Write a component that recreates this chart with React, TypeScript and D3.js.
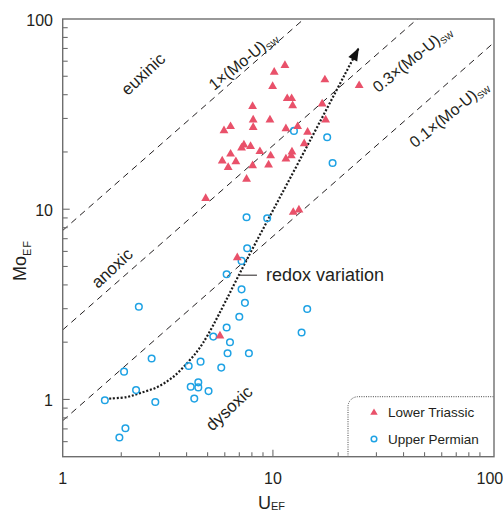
import React from "react";
import * as d3 from "d3";

const W = 503;
const H = 512;

// axis limits, read from where the frame edges fall
const U_MIN = 1.074;
const U_MAX = 104.5;
const MO_MIN = 0.5;
const MO_MAX = 100;

const xTickLabels = [1, 10, 100];
const yTickLabels = [1, 10, 100];

// seawater Mo/U line family
const SW_RATIO = 7.2;
const lineFactors = [1, 0.3, 0.1];
const lineLabels = ["1×(Mo-U)", "0.3×(Mo-U)", "0.1×(Mo-U)"];
const lineLabelU = [7.27, 43.7, 64.7];
const lineLabelMo = [60.3, 61.8, 31.7];

const zoneNames = ["euxinic", "anoxic", "dysoxic"];
const zoneU = [2.52, 1.81, 6.27];
const zoneMo = [51.5, 4.91, 0.9];

// Lower Triassic (triangles)
const triU = [
  11.36, 10.14, 17.36, 9.97, 24.98, 11.64, 12.2, 8.06, 12.33, 16.87,
  8.11, 9.69, 17.5, 6.38, 5.95, 8.11, 11.48, 13.0, 14.45, 13.94,
  7.35, 7.89, 7.17, 8.71, 6.38, 9.76, 12.24, 12.15, 11.48, 5.84,
  6.75, 6.22, 8.06, 9.55, 7.56, 4.9, 12.41, 13.18, 6.85, 5.7,
];
const triMo = [
  57.0, 52.6, 47.9, 44.2, 44.7, 38.2, 38.2, 34.7, 35.0, 35.8,
  29.5, 29.5, 29.5, 27.2, 25.9, 26.9, 26.5, 27.2, 25.4, 22.1,
  21.8, 21.4, 21.0, 20.1, 19.5, 19.1, 20.0, 19.1, 18.4, 17.96,
  17.8, 16.6, 16.96, 17.1, 14.4, 11.4, 9.64, 9.92, 5.56, 2.16,
];

// Upper Permian (circles)
const circU = [
  12.5, 17.79, 18.84, 7.56, 9.41, 7.61, 7.17, 6.12, 7.17, 7.43,
  14.39, 7.0, 6.12, 13.56, 5.31, 6.34, 6.18, 7.75, 4.64, 2.76,
  2.41, 4.09, 5.78, 2.06, 4.53, 4.18, 4.53, 5.05, 2.34, 1.68,
  2.87, 4.34, 2.09, 1.96,
];
const circMo = [
  25.8, 23.9, 17.5, 9.08, 8.97, 6.23, 5.35, 4.55, 3.79, 3.22,
  2.99, 2.72, 2.39, 2.25, 2.14, 2.0, 1.75, 1.75, 1.58, 1.64,
  3.07, 1.5, 1.47, 1.4, 1.23, 1.165, 1.157, 1.106, 1.12, 0.99,
  0.97, 1.01, 0.706, 0.631,
];

// redox variation trend
const trendU = [1.76, 2.12, 2.44, 2.92, 3.46, 4.14, 4.76, 7.83, 13.32, 24.9];
const trendMo = [1.01, 1.03, 1.08, 1.16, 1.31, 1.61, 1.98, 5.83, 18.2, 70.6];
const trendLabelU = 7.05;
const trendLabelMo = 4.5;

const FONT = "'Liberation Sans', Arial, Helvetica, sans-serif";
const TRI_COLOR = "#e9516a";
const CIRC_COLOR = "#1ea2e4";
const AXIS_COLOR = "#6e6e6e";
const INK = "#231f20";

export default function App() {
  const x = d3.scaleLog().domain([U_MIN, U_MAX]).range([62.7, 494]);
  const y = d3.scaleLog().domain([MO_MIN, MO_MAX]).range([456.7, 19]);

  const left = x(U_MIN);
  const right = x(U_MAX);
  const top = y(MO_MAX);
  const bottom = y(MO_MIN);

  const xMinor = [2, 3, 4, 5, 6, 7, 8, 9, 20, 30, 40, 50, 60, 70, 80, 90];
  const yMinor = [0.6, 0.7, 0.8, 0.9, 2, 3, 4, 5, 6, 7, 8, 9, 20, 30, 40, 50, 60, 70, 80, 90];

  const tri = d3.symbol(d3.symbolTriangle, 34)();
  const triSmall = d3.symbol(d3.symbolTriangle, 24)();

  const trendPts: [number, number][] = trendU.map((u, i) => [x(u), y(trendMo[i])]);
  const trendPath = d3.line().curve(d3.curveCatmullRom.alpha(0.5))(trendPts) || "";
  const tip = trendPts[trendPts.length - 1];
  const prev = trendPts[trendPts.length - 2];
  const ang = Math.atan2(tip[1] - prev[1], tip[0] - prev[0]);
  const aLen = 13;
  const aHalf = 5;
  const bx = tip[0] - aLen * Math.cos(ang);
  const by = tip[1] - aLen * Math.sin(ang);
  const arrow = `M${tip[0]},${tip[1]}L${bx + aHalf * Math.sin(ang)},${by - aHalf * Math.cos(ang)}L${bx - aHalf * Math.sin(ang)},${by + aHalf * Math.cos(ang)}Z`;

  const lx = x(trendLabelU);
  const ly = y(trendLabelMo);

  // legend sits in the lower-right corner of the frame
  const legLeft = 348;
  const legTop = 396.7;
  const legR = 10;

  return (
    <svg
      width={W}
      height={H}
      style={{ position: "absolute", left: 0, top: 0, background: "#fff" }}
      fontFamily={FONT}
    >
      <defs>
        <clipPath id="frame">
          <rect x={left} y={top} width={right - left} height={bottom - top} />
        </clipPath>
      </defs>

      {/* seawater ratio lines */}
      <g clipPath="url(#frame)">
        {lineFactors.map((k, i) => (
          <line
            key={i}
            x1={x(U_MIN)}
            y1={y(k * SW_RATIO * U_MIN)}
            x2={x(U_MAX)}
            y2={y(k * SW_RATIO * U_MAX)}
            stroke={INK}
            strokeWidth={1}
            strokeDasharray="6.5 5"
          />
        ))}
      </g>

      {/* legend outline */}
      <path
        d={`M${legLeft},${bottom}V${legTop + legR}A${legR},${legR} 0 0 1 ${legLeft + legR},${legTop}H${right}`}
        fill="none"
        stroke="#444"
        strokeWidth={1}
        strokeDasharray="1 1.3"
      />

      {/* trend */}
      <path d={trendPath} fill="none" stroke="#1a1a1a" strokeWidth={2.2} strokeDasharray="2 1.8" />
      <path d={arrow} fill="#111" />
      <line x1={lx} x2={lx + 17} y1={ly} y2={ly} stroke={INK} strokeWidth={1} />
      <text x={lx + 26} y={ly} dy="0.35em" fontSize={18} fill={INK}>
        redox variation
      </text>

      {/* data */}
      {circU.map((u, i) => (
        <circle
          key={"c" + i}
          cx={x(u)}
          cy={y(circMo[i])}
          r={3.3}
          fill="none"
          stroke={CIRC_COLOR}
          strokeWidth={1.5}
        />
      ))}
      {triU.map((u, i) => (
        <path key={"t" + i} d={tri} transform={`translate(${x(u)},${y(triMo[i])})`} fill={TRI_COLOR} />
      ))}

      {/* zone labels */}
      {zoneNames.map((name, i) => (
        <text
          key={name}
          transform={`translate(${x(zoneU[i])},${y(zoneMo[i])}) rotate(-43)`}
          textAnchor="middle"
          dy="0.35em"
          fontSize={17}
          fill={INK}
        >
          {name}
        </text>
      ))}

      {/* line labels */}
      {lineLabels.map((lab, i) => (
        <text
          key={lab}
          transform={`translate(${x(lineLabelU[i])},${y(lineLabelMo[i])}) rotate(-39)`}
          textAnchor="middle"
          dy="0.35em"
          fontSize={16}
          fill={INK}
        >
          {lab}
          <tspan fontSize={9} dy={3}>SW</tspan>
        </text>
      ))}

      {/* legend */}
      <path d={triSmall} transform={`translate(374,412.7)`} fill={TRI_COLOR} />
      <text x={388} y={412.7} dy="0.35em" fontSize={13.5} fill={INK}>Lower Triassic</text>
      <circle cx={374} cy={439} r={2.8} fill="none" stroke={CIRC_COLOR} strokeWidth={1.5} />
      <text x={388} y={439} dy="0.35em" fontSize={13.5} fill={INK}>Upper Permian</text>

      {/* frame and ticks */}
      <rect x={left} y={top} width={right - left} height={bottom - top} fill="none" stroke={AXIS_COLOR} strokeWidth={1.4} />
      {xMinor.map((v) => (
        <line key={"xm" + v} x1={x(v)} x2={x(v)} y1={bottom} y2={bottom - 4.5} stroke={AXIS_COLOR} strokeWidth={1.1} />
      ))}
      <line x1={x(10)} x2={x(10)} y1={bottom} y2={bottom - 7} stroke={AXIS_COLOR} strokeWidth={1.1} />
      {yMinor.map((v) => (
        <line key={"ym" + v} x1={left} x2={left + 5} y1={y(v)} y2={y(v)} stroke={AXIS_COLOR} strokeWidth={1.1} />
      ))}
      {[1, 10].map((v) => (
        <line key={"yM" + v} x1={left} x2={left + 7} y1={y(v)} y2={y(v)} stroke={AXIS_COLOR} strokeWidth={1.1} />
      ))}

      {xTickLabels.map((v) => (
        <text key={"xl" + v} x={x(Math.max(v, U_MIN))} y={484} textAnchor="middle" fontSize={16} fill={INK}>
          {v}
        </text>
      ))}
      {yTickLabels.map((v) => (
        <text key={"yl" + v} x={53} y={y(v) + 1} dy="0.35em" textAnchor="end" fontSize={16} fill={INK}>
          {v}
        </text>
      ))}

      {/* axis titles */}
      <text x={x(10) - 15} y={508.5} fontSize={18} fill={INK}>
        U<tspan fontSize={11} dy={1.5}>EF</tspan>
      </text>
      <text transform={`translate(25.5,281) rotate(-90)`} fontSize={18} fill={INK}>
        Mo<tspan fontSize={11} dy={5} letterSpacing={1}>EF</tspan>
      </text>
    </svg>
  );
}
